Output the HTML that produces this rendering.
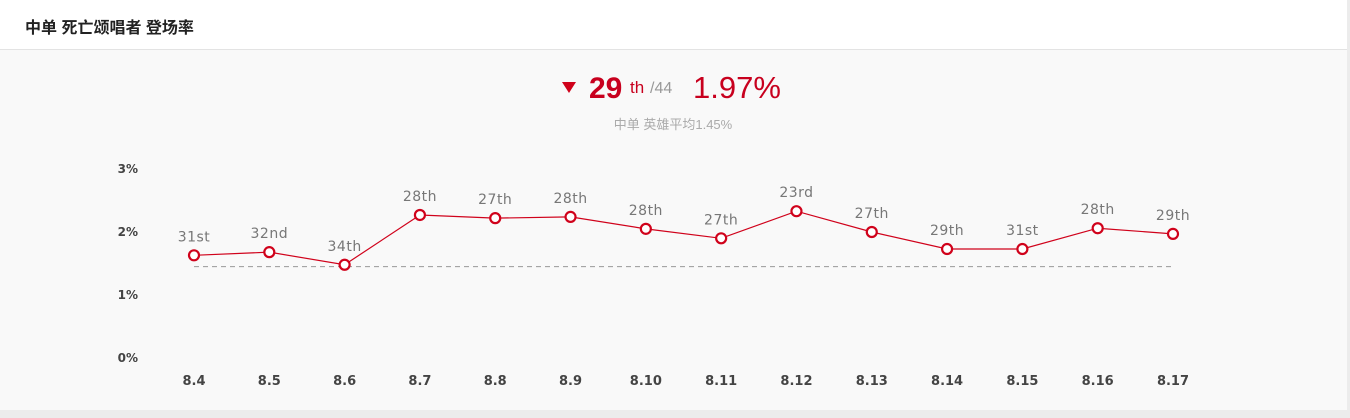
<!DOCTYPE html>
<html><head><meta charset="utf-8"><style>
html,body{margin:0;padding:0;width:1350px;height:418px;overflow:hidden;background:#ececec;font-family:"Liberation Sans","Noto Sans CJK SC",sans-serif}
#card{position:absolute;left:0;top:0;width:1347px;height:410px;background:#f9f9f9}
#hdr{position:absolute;left:0;top:0;width:1347px;height:49px;background:#fff;border-bottom:1px solid #e3e3e3}
#title{position:absolute;left:25px;top:14px;font-size:16px;font-weight:bold;color:#222}
</style></head><body>
<div id="card">
<div id="hdr"><div id="title">中单 死亡颂唱者 登场率</div></div>
<svg id="svg" width="1347" height="410" style="position:absolute;left:0;top:0">
<polygon points="562,82 576,82 569,93" fill="#d0021b"/>
<text x="589" y="98" font-size="30" font-weight="bold" fill="#c8001e">29</text>
<text x="630" y="93" font-size="17" fill="#c8001e">th</text>
<text x="650" y="93" font-size="16" fill="#999">/44</text>
<text x="693" y="98" font-size="31" fill="#c8001e">1.97%</text>
<text x="673" y="129" font-size="13" fill="#aaa" text-anchor="middle">中单 英雄平均1.45%</text>
<g id="chart"></g>
</svg>
</div>
<script>
const categories=["8.4","8.5","8.6","8.7","8.8","8.9","8.10","8.11","8.12","8.13","8.14","8.15","8.16","8.17"];
const values=[1.63,1.68,1.48,2.27,2.22,2.24,2.05,1.90,2.33,2.00,1.73,1.73,2.06,1.97];
const ranks=["31st","32nd","34th","28th","27th","28th","28th","27th","23rd","27th","29th","31st","28th","29th"];
const yTicks=[0,1,2,3];
const avg=1.45;
const x=i=>194+i*(1173-194)/(categories.length-1);
const y=v=>358-v*63;
const g=document.getElementById('chart');
const NS='http://www.w3.org/2000/svg';
const DV='"DejaVu Sans",sans-serif';
function mk(t,a){const e=document.createElementNS(NS,t);for(const k in a)e.setAttribute(k,a[k]);g.appendChild(e);return e;}
yTicks.forEach(t=>{const e=mk('text',{x:138,y:y(t)+4,'font-size':12,'font-weight':'bold',fill:'#444','text-anchor':'end','font-family':DV});e.textContent=t+'%';

});
categories.forEach((c,i)=>{const e=mk('text',{x:x(i),y:385,'font-size':13,'font-weight':'bold',fill:'#444','text-anchor':'middle','font-family':DV});e.textContent=c;

});
const al=mk('line',{x1:x(0),x2:x(categories.length-1),y1:y(avg),y2:y(avg),stroke:'#999','stroke-dasharray':'5,4','stroke-width':1});


const pl=mk('polyline',{points:values.map((v,i)=>x(i)+','+y(v)).join(' '),fill:'none',stroke:'#d0021b','stroke-width':1.2});


values.forEach((v,i)=>{const c=mk('circle',{cx:x(i),cy:y(v),r:5,fill:'#fff',stroke:'#d0021b','stroke-width':2.2});


const t=mk('text',{x:x(i),y:y(v)-14,'font-size':14,fill:'#777','text-anchor':'middle','font-family':DV,'letter-spacing':'0.5'});t.textContent=ranks[i];

});
</script>
</body></html>
